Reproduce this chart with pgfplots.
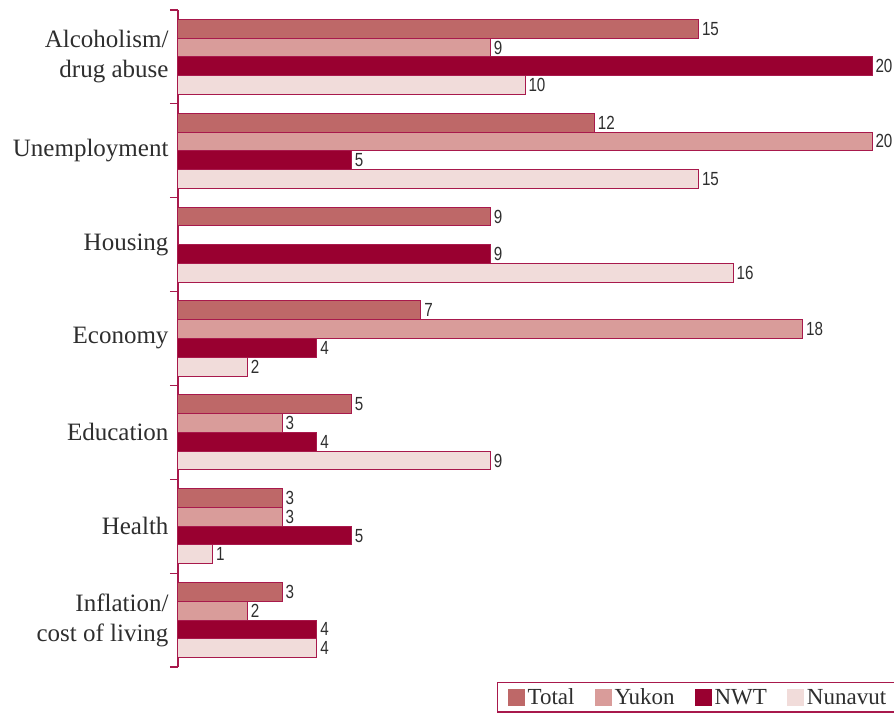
\documentclass[border=0pt]{standalone}
\usepackage{pgfplots}
\pgfplotsset{compat=1.18}
\usepackage{fontspec}
\setmainfont{Liberation Serif}
\newfontfamily\narrowsans[FakeStretch=0.8]{Liberation Sans}
\definecolor{cTotal}{HTML}{BE6868}
\definecolor{cYukon}{HTML}{D99C9A}
\definecolor{cNWT}{HTML}{990030}
\definecolor{cNunavut}{HTML}{F1DCDA}
\definecolor{cBorder}{HTML}{A8194C}
\definecolor{cText}{HTML}{2E2E2E}
\begin{document}
\begin{tikzpicture}
\begin{axis}[
  at={(0,0)}, anchor=south west,
  scale only axis, width=694pt, height=657pt,
  xmin=0, xmax=20, ymin=-0.5, ymax=6.5,
  y dir=reverse,
  xbar, bar width=0.2,
  axis x line=none, axis y line*=left,
  axis line style={draw=cBorder, line width=1.5pt},
  ytick={0,...,6},
  yticklabels={{Alcoholism/\\drug abuse},Unemployment,Housing,Economy,Education,Health,{Inflation/\\cost of living}},
  yticklabel style={align=right, font=\fontsize{25}{30}\selectfont, text=cText, xshift=-6pt},
  minor ytick={-0.5,0.5,...,6.5},
  major tick length=0pt, minor tick length=8pt,
  tick align=outside,
  tick style={draw=cBorder, line width=1.2pt},
  clip=false,
  /pgf/number format/assume math mode=true,
  nodes near coords,
  nodes near coords style={anchor=west, inner sep=3pt, font=\narrowsans\fontsize{19}{19}\selectfont, text=cText},
  every axis plot/.append style={draw=cBorder, line width=1pt},
  legend columns=4,
  legend style={at={(0.4597,-0.0228)}, anchor=north west, draw=cBorder, line width=1.2pt,
    font=\fontsize{23}{26}\selectfont, text=cText, inner xsep=10pt, inner ysep=4pt,
    nodes={inner xsep=3pt},
    /tikz/every even column/.append style={column sep=17pt}},
  legend image code/.code={\fill[#1, draw=none] (0pt,-8.5pt) rectangle (17pt,8.5pt);},
]
\addplot[fill=cTotal, bar shift=-0.3] coordinates {(15,0) (12,1) (9,2) (7,3) (5,4) (3,5) (3,6)};
\addplot[fill=cYukon, bar shift=-0.1] coordinates {(9,0) (20,1) (18,3) (3,4) (3,5) (2,6)};
\addplot[fill=cNWT, bar shift=0.1] coordinates {(20,0) (5,1) (9,2) (4,3) (4,4) (5,5) (4,6)};
\addplot[fill=cNunavut, bar shift=0.3] coordinates {(10,0) (15,1) (16,2) (2,3) (9,4) (1,5) (4,6)};
\legend{Total, Yukon, NWT, Nunavut}
\end{axis}
\pgfresetboundingbox
\useasboundingbox (-178pt,-47pt) rectangle (716pt,667pt);
\end{tikzpicture}
\end{document}
